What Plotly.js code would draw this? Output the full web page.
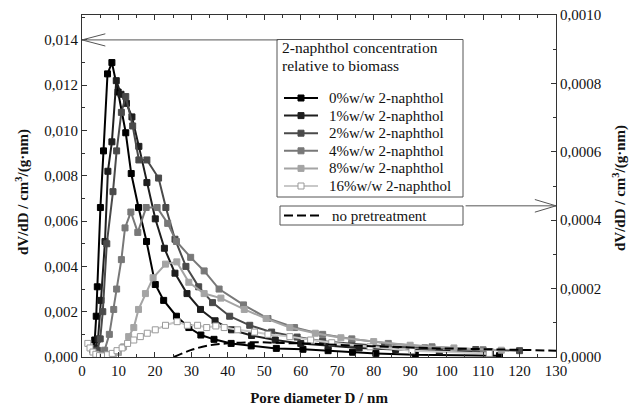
<!DOCTYPE html>
<html>
<head>
<meta charset="utf-8">
<script src="https://cdn.plot.ly/plotly-3.0.1.min.js"></script>
<style>html,body{margin:0;padding:0;background:#fff;}#chart{width:635px;height:411px;}</style>
</head>
<body>
<div id="chart"></div>
<script>
// ---- data ----
const seriesNames = ["0%w/w 2-naphthol","1%w/w 2-naphthol","2%w/w 2-naphthol","4%w/w 2-naphthol","8%w/w 2-naphthol","16%w/w 2-naphthol"];
const noPretreatName = "no pretreatment";
const legendTitle = ["2-naphthol concentration","relative to biomass"];
const yTitle = "<b>dV/dD / cm<sup>3</sup>/(g·nm)</b>";
const xTitle = "<b>Pore diameter D / nm</b>";

const d0 = [3.0,3.5,3.9,4.2,5.05,5.9,7.0,8.2,9.9,12.0,13.5,15.5,17.7,20.1,22.4,25.9,29.3,32.6,36.2,40.9,46.4,53.3,60.6,67.5,74.2,80.6,91.4,114.5];
const v0 = [0.0003,0.00075,0.0018,0.0031,0.0066,0.0091,0.0125,0.0130,0.0117,0.0099,0.0081,0.0066,0.0051,0.0032,0.0025,0.0018,0.0013,0.00097,0.00078,0.0006,0.00049,0.00038,0.00034,0.00028,0.00021,0.00016,0.0001,0.00006];

const d1 = [3.6,4.4,5.2,6.3,7.1,8.2,9.4,10.7,12.2,13.7,15.6,17.8,20.1,22.6,25.5,28.8,32.5,36.5,41.0,46.5,53.0,60.0,67.5,76.0,86.0,98.0,112.0];
const v1 = [0.0004,0.0008,0.0025,0.0051,0.0082,0.0095,0.0122,0.0116,0.0112,0.0106,0.0093,0.0077,0.0061,0.0048,0.0037,0.0028,0.0021,0.0016,0.0012,0.00095,0.00075,0.0006,0.0005,0.0004,0.00033,0.00027,0.00022];

const d2 = [4.2,5.0,5.7,6.8,8.5,9.5,10.8,12.0,13.9,15.6,17.8,21.0,23.0,25.5,28.5,32.0,35.8,40.5,46.0,52.0,59.0,66.0,74.0,83.0,94.0,108.0,120.0];
const v2 = [0.0003,0.0008,0.0020,0.0050,0.0073,0.0091,0.0108,0.0115,0.0102,0.0087,0.0087,0.0079,0.0066,0.0052,0.0040,0.0031,0.0024,0.0018,0.0014,0.0011,0.00088,0.0007,0.00058,0.00048,0.0004,0.00033,0.00028];

const d4 = [4.5,6.2,7.5,8.7,9.5,10.8,11.8,13.4,15.3,17.6,20.6,23.5,25.9,29.8,33.5,37.6,44.3,51.0,58.3,66.0,74.0,84.0,96.0,110.0];
const v4 = [0.0001,0.0003,0.0010,0.0021,0.0030,0.0043,0.0057,0.0064,0.0055,0.0066,0.0066,0.0059,0.0051,0.0044,0.0038,0.0030,0.0023,0.0017,0.0013,0.0010,0.0008,0.0006,0.00045,0.00032];

const d8 = [7.0,8.6,10.0,11.4,12.8,14.2,15.5,17.4,19.5,22.9,26.0,29.3,33.5,38.1,44.5,50.5,57.0,64.0,71.0,80.0,90.0,102.0,115.0];
const v8 = [0.00005,0.0001,0.0002,0.00045,0.0009,0.0013,0.0021,0.0028,0.0035,0.0041,0.0042,0.0033,0.0028,0.0026,0.0021,0.0017,0.0013,0.00105,0.00085,0.00068,0.00052,0.0004,0.0003];

const d16 = [1.6,2.2,3.0,3.8,4.8,5.8,7.0,8.3,9.6,11.0,12.5,14.2,16.0,17.9,20.1,22.9,26.1,28.9,31.7,34.2,36.7,39.0,42.7,47.3,51.0,57.0,62.7,68.5,79.0,90.5,111.7];
const v16 = [0.0006,0.0004,0.00022,0.00012,0.00006,0.00005,0.0001,0.00016,0.00028,0.0004,0.0006,0.00075,0.0009,0.00105,0.0012,0.0014,0.00156,0.0014,0.0014,0.0013,0.00137,0.0013,0.0012,0.0011,0.001,0.0009,0.00075,0.00063,0.00045,0.00028,0.00016];

// no pretreatment, read against the right-hand axis
const dN = [25.2,29.8,34.4,40.0,47.0,55.0,65.0,75.0,85.0,95.0,105.0,115.0,130.0];
const vN = [0.0,0.00002,0.000033,0.00004,0.000043,0.000041,0.000038,0.000033,0.00003,0.000026,0.000024,0.000022,0.0000185];

const seriesX = [d0,d1,d2,d4,d8,d16];
const seriesY = [v0,v1,v2,v4,v8,v16];
const lineColors = ["#000000","#1e1e1e","#4a4a4a","#787878","#a4a4a4","#c8c8c8"];
const markerFill = ["#000000","#1e1e1e","#4a4a4a","#787878","#a4a4a4","#ffffff"];
const markerEdge = ["#000000","#1e1e1e","#4a4a4a","#787878","#a4a4a4","#9a9a9a"];

const FONT = "'Liberation Serif', 'Times New Roman', serif";
const DASH = "9px,4px";
const W = 635, H = 411, ML = 82, MR = 79, MT = 15, MB = 54;
const PW = W - ML - MR, PH = H - MT - MB;
const px = x => (x - ML) / PW;            // pixel -> paper x
const py = y => (H - MB - y) / PH;        // pixel -> paper y

const traces = seriesNames.map((n,i)=>({
  type:"scatter", mode:"lines+markers", name:n,
  x:seriesX[i], y:seriesY[i], xaxis:"x", yaxis:"y",
  line:{color:lineColors[i], width:2},
  marker:{symbol:"square", size:6, color:markerFill[i], line:{color:markerEdge[i], width:1}},
  showlegend:false
}));
traces.push({
  type:"scatter", mode:"lines", name:noPretreatName,
  x:dN, y:vN, xaxis:"x", yaxis:"y2",
  line:{color:"#000", width:2, dash:DASH, shape:"spline"},
  showlegend:false
});

// ---- legend boxes drawn as shapes + annotations ----
const box1 = {x0:277, x1:463, y0:39.5, y1:197};
const box2 = {x0:280, x1:463, y0:206, y1:225};
const entryY0 = 98, entryStep = 17.6;
const shapes = [];
const annotations = [];
const P = {xref:"paper", yref:"paper"};
shapes.push(Object.assign({type:"rect", x0:px(box1.x0), x1:px(box1.x1), y0:py(box1.y0), y1:py(box1.y1), fillcolor:"#fff", line:{color:"#555", width:1}, layer:"above"}, P));
shapes.push(Object.assign({type:"rect", x0:px(box2.x0), x1:px(box2.x1), y0:py(box2.y0), y1:py(box2.y1), fillcolor:"#fff", line:{color:"#555", width:1}, layer:"above"}, P));
legendTitle.forEach((t,k)=>{
  annotations.push(Object.assign({text:t, x:px(280), y:py(47 + k*18), xanchor:"left", yanchor:"middle", showarrow:false, font:{family:FONT, size:15.5, color:"#111"}}, P));
});
seriesNames.forEach((n,i)=>{
  const yy = entryY0 + i*entryStep;
  shapes.push(Object.assign({type:"line", x0:px(284), x1:px(318), y0:py(yy), y1:py(yy), line:{color:lineColors[i], width:2}, layer:"above"}, P));
  shapes.push(Object.assign({type:"rect", x0:px(298), x1:px(304), y0:py(yy-3), y1:py(yy+3), fillcolor:markerFill[i], line:{color:markerEdge[i], width:1}, layer:"above"}, P));
  annotations.push(Object.assign({text:n, x:px(327), y:py(yy), xanchor:"left", yanchor:"middle", showarrow:false, font:{family:FONT, size:15, color:"#111"}}, P));
});
const y2mid = (box2.y0 + box2.y1)/2;
shapes.push(Object.assign({type:"line", x0:px(284), x1:px(321), y0:py(y2mid), y1:py(y2mid), line:{color:"#000", width:2, dash:DASH}, layer:"above"}, P));
annotations.push(Object.assign({text:noPretreatName, x:px(330), y:py(y2mid), xanchor:"left", yanchor:"middle", showarrow:false, font:{family:FONT, size:15, color:"#111"}}, P));

// ---- axis titles for the two value axes ----
const titleFont = {family:FONT, size:15, color:"#111"};
annotations.push(Object.assign({text:yTitle, x:px(22), y:py(192), xanchor:"center", yanchor:"middle", textangle:-90, showarrow:false, font:titleFont}, P));
annotations.push(Object.assign({text:yTitle, x:px(620), y:py(188), xanchor:"center", yanchor:"middle", textangle:-90, showarrow:false, font:titleFont}, P));

// ---- arrows pointing to the axis each group belongs to ----
const arrowC = {color:"#555", width:1};
const aL = 0.014;
shapes.push({type:"line", xref:"x", yref:"y", x0:0, x1:53.8, y0:aL, y1:aL, line:arrowC});
shapes.push({type:"line", xref:"x", yref:"y", x0:0, x1:6.4, y0:aL, y1:aL+0.00027, line:arrowC});
shapes.push({type:"line", xref:"x", yref:"y", x0:0, x1:6.4, y0:aL, y1:aL-0.00027, line:arrowC});
const aR = 0.000442;
shapes.push({type:"line", xref:"x", yref:"y2", x0:105.2, x1:130, y0:aR, y1:aR, line:arrowC});
shapes.push({type:"line", xref:"x", yref:"y2", x0:130, x1:124.2, y0:aR, y1:aR+0.0000185, line:arrowC});
shapes.push({type:"line", xref:"x", yref:"y2", x0:130, x1:124.2, y0:aR, y1:aR-0.0000185, line:arrowC});

const axisCommon = {
  showline:true, linecolor:"#333", linewidth:1, ticks:"inside", ticklen:5, tickcolor:"#333",
  showgrid:false, zeroline:false, tickfont:{family:FONT, size:15, color:"#111"}
};

const layout = {
  width:W, height:H,
  margin:{l:ML, r:MR, t:MT, b:MB},
  paper_bgcolor:"#fff", plot_bgcolor:"#fff",
  separators:", ",
  font:{family:FONT, color:"#111"},
  showlegend:false,
  xaxis:Object.assign({}, axisCommon, {
    range:[0,130], dtick:10, tick0:0, mirror:"ticks",
    minor:{dtick:5, ticks:"inside", ticklen:3, tickcolor:"#333"},
    title:{text:xTitle, font:titleFont, standoff:14}
  }),
  yaxis:Object.assign({}, axisCommon, {
    range:[0,0.0151], dtick:0.002, tick0:0, tickformat:".3f",
    minor:{dtick:0.001, ticks:"inside", ticklen:3, tickcolor:"#333"}
  }),
  yaxis2:Object.assign({}, axisCommon, {
    overlaying:"y", side:"right", anchor:"x",
    range:[0,0.001], dtick:0.0002, tick0:0, tickformat:".4f",
    minor:{dtick:0.0001, ticks:"inside", ticklen:3, tickcolor:"#333"}
  }),
  shapes:shapes,
  annotations:annotations
};

Plotly.newPlot("chart", traces, layout, {displayModeBar:false, staticPlot:true});
</script>
</body>
</html>
